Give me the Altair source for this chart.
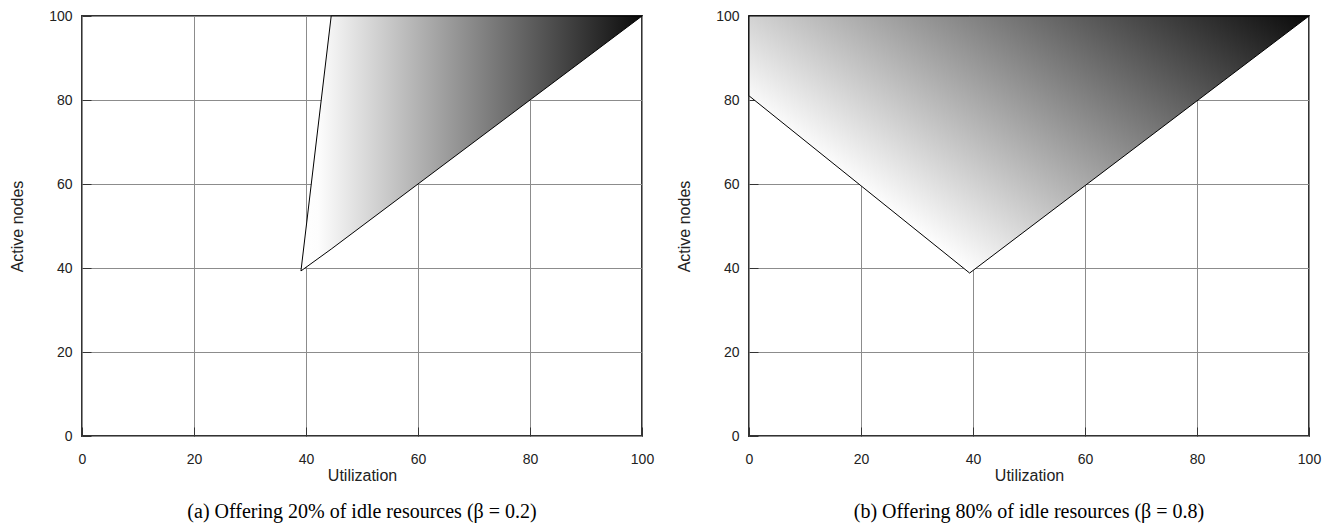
import altair as alt
import pandas as pd

# ---- data ----
ticks = [0, 20, 40, 60, 80, 100]

a_util = [39.1, 44.5, 100]
a_upper = [39.3, 100, 100]
a_lower = [39.3, 44.5, 100]

b_util = [0, 39.4, 100]
b_upper = [100, 100, 100]
b_lower = [81.0, 38.8, 100]

captions = [
    "(a) Offering 20% of idle resources (\u03b2 = 0.2)",
    "(b) Offering 80% of idle resources (\u03b2 = 0.8)",
]

grad_a = {
    "gradient": "linear",
    "x1": 0, "y1": 0, "x2": 1, "y2": 0,
    "stops": [
        {"offset": 0.0, "color": "#ffffff"},
        {"offset": 0.05, "color": "#fdfdfd"},
        {"offset": 1.0, "color": "#0a0a0a"},
    ],
}
grad_b = {
    "gradient": "linear",
    "x1": 0.39, "y1": 1.0, "x2": 1.279, "y2": 0.4576,
    "stops": [
        {"offset": 0.0, "color": "#ffffff"},
        {"offset": 1.0, "color": "#0a0a0a"},
    ],
}


def panel(xs, up, lo, grad, caption):
    df = pd.DataFrame({"u": xs, "hi": up, "lo": lo})
    xax = alt.Axis(values=ticks, title="Utilization", offset=-9, tickSize=9,
                   labelPadding=16, titlePadding=1, domain=False, grid=True,
                   labelFlush=False)
    yax = alt.Axis(values=ticks, title="Active nodes", offset=-9, tickSize=9,
                   labelPadding=10, titlePadding=23, domain=False, grid=True,
                   labelFlush=False)
    return (
        alt.Chart(
            df,
            title=alt.TitleParams(
                caption, orient="bottom", frame="group", anchor="middle",
                font="Liberation Serif", fontSize=20, fontWeight="normal",
                color="black", offset=19,
            ),
        )
        .mark_area(fill=grad, stroke="black", strokeWidth=1)
        .encode(
            x=alt.X("u:Q", scale=alt.Scale(domain=[0, 100], nice=False), axis=xax),
            y=alt.Y("hi:Q", scale=alt.Scale(domain=[0, 100], nice=False), axis=yax),
            y2="lo:Q",
        )
        .properties(width=560, height=420)
    )


pa = panel(a_util, a_upper, a_lower, grad_a, captions[0])
pb = panel(b_util, b_upper, b_lower, grad_b, captions[1])

chart = (
    alt.hconcat(pa, pb, spacing=20)
    .properties(padding=0)
    .configure_view(stroke="#333333", strokeWidth=2)
    .configure_axis(
        labelFont="Liberation Sans", labelFontSize=14, labelColor="#222222",
        titleFont="Liberation Sans", titleFontSize=16, titleFontWeight="normal",
        titleColor="#222222", gridColor="#8c8c8c", gridWidth=1, gridOpacity=1,
        tickColor="#333333", tickWidth=1,
    )
)

chart.save("out.html", embed_options={"renderer": "svg", "actions": False})
